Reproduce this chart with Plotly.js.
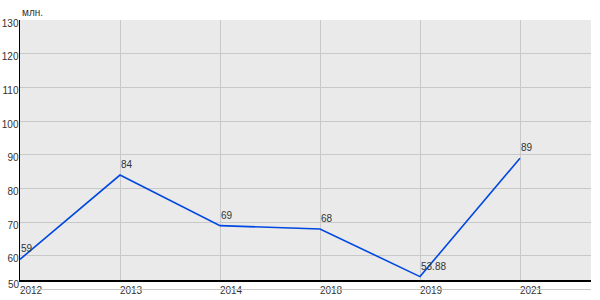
<!DOCTYPE html>
<html><head><meta charset="utf-8">
<script src="https://cdn.plot.ly/plotly-3.0.1.min.js"></script>
<style>html,body{margin:0;padding:0;background:#fff}#c{width:600px;height:300px}</style>
</head><body><div id="c"></div>
<script>
const years = ['2012','2013','2014','2018','2019','2021'];
const values = [59, 84, 69, 68, 53.88, 89];
const labels = ['59','84','69','68','53.88','89'];
const unit = 'млн.';

const trace = {
  x: years, y: values, type: 'scatter', mode: 'lines',
  line: {color: '#0048e0', width: 1.6},
  cliponaxis: false, hoverinfo: 'none'
};
const valueNotes = years.map((yr, i) => ({
  text: labels[i], x: i, y: values[i], xref: 'x', yref: 'y',
  xanchor: 'left', yanchor: 'bottom', xshift: -1, yshift: 3,
  showarrow: false, font: {size: 10, color: '#333'}
}));
const layout = {
  width: 600, height: 300,
  margin: {l: 20, r: 9, t: 20, b: 20},
  paper_bgcolor: '#fff', plot_bgcolor: '#eaeaea',
  showlegend: false,
  font: {family: 'Liberation Sans, Arial', size: 10, color: '#333'},
  xaxis: {type: 'category', range: [0, 5.71], showgrid: true, gridcolor: '#c8c8c8', gridwidth: 1,
          zeroline: false, showline: true, linecolor: '#000', linewidth: 1.5,
          ticks: '', ticklabelshift: 11, ticklabelstandoff: 0,
          tickfont: {size: 10, color: '#333'}, fixedrange: true},
  yaxis: {range: [52.87, 130], dtick: 10, tick0: 50, showgrid: true, gridcolor: '#c8c8c8', gridwidth: 1,
          zeroline: false, showline: true, linecolor: '#000', linewidth: 1.5,
          ticks: '', ticklabelshift: 3, ticklabelstandoff: -2,
          tickfont: {size: 10, color: '#333'}, fixedrange: true},
  shapes: [
    {type: 'line', xref: 'paper', yref: 'paper', x0: 0, x1: 1, y0: -0.0365, y1: -0.0365,
     line: {color: '#c8c8c8', width: 1}}
  ],
  annotations: [
    {text: unit, xref: 'paper', yref: 'paper', x: 0, y: 1.027, xanchor: 'left', yanchor: 'middle',
     showarrow: false, font: {size: 10, color: '#333'}},
    {text: '50', xref: 'paper', yref: 'paper', x: 0, y: -0.019, xanchor: 'right', yanchor: 'middle',
     xshift: 2, showarrow: false, font: {size: 10, color: '#333'}}
  ].concat(valueNotes)
};
Plotly.newPlot('c', [trace], layout, {staticPlot: true});
</script></body></html>
